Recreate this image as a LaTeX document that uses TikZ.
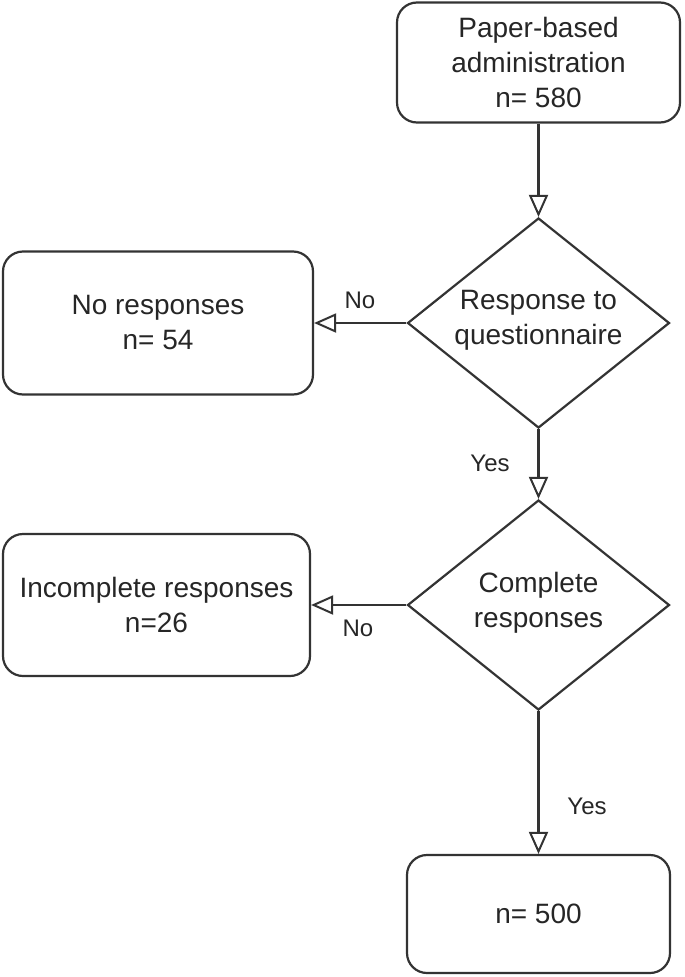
\documentclass[tikz,border=0pt]{standalone}
\usepackage{fontspec}
\setmainfont{Liberation Sans}
\usetikzlibrary{shapes.geometric,arrows.meta}
\definecolor{linegray}{RGB}{51,51,51}
\definecolor{textgray}{RGB}{38,38,38}
\tikzset{
  every node/.style={text=textgray},
  box/.style={draw=linegray, line width=2.2pt, rounded corners=20pt, inner sep=0pt,
    align=center, font=\fontsize{28}{35}\selectfont},
  decision/.style={draw=linegray, line width=2.2pt, shape=diamond, inner sep=0pt,
    minimum width=262pt, minimum height=210pt},
  dectext/.style={align=center, font=\fontsize{28}{35}\selectfont},
  edgelabel/.style={font=\fontsize{24}{28}\selectfont},
  flow/.style={draw=linegray, line width=2.2pt,
    -{Triangle[open, length=22pt, width=19pt, line width=2pt]}},
}
\begin{document}
\begin{tikzpicture}[x=1pt, y=-1pt]
  \useasboundingbox (0,0) rectangle (685,977);

  \node[box, minimum width=283pt, minimum height=120pt] (top) at (538.5,62.5)
    {Paper-based\\administration\\n= 580};

  \node[decision] (d1) at (538.5,323) {};
  \node[dectext] (d1t) at (538.5,320) {Response to\\questionnaire};

  \node[box, minimum width=310pt, minimum height=143pt] (nores) at (158,323)
    {No responses\\n= 54};

  \node[decision] (d2) at (538.5,605) {};
  \node[dectext] (d2t) at (538.5,603) {Complete\\responses};

  \node[box, minimum width=307pt, minimum height=142pt] (incomp) at (156.5,605)
    {Incomplete responses\\n=26};

  \node[box, minimum width=263pt, minimum height=118pt] (final) at (538.5,914)
    {n= 500};

  \draw[flow] (top.south) -- (d1.north);
  \draw[flow] (d1.west) -- (nores.east);
  \draw[flow] (d1.south) -- (d2.north);
  \draw[flow] (d2.west) -- (incomp.east);
  \draw[flow] (d2.south) -- (final.north);

  \node[edgelabel] (no1) at (360,300) {No};
  \node[edgelabel] (yes1) at (490,463) {Yes};
  \node[edgelabel] (no2) at (358,628) {No};
  \node[edgelabel] (yes2) at (587,806) {Yes};
\end{tikzpicture}
\end{document}
